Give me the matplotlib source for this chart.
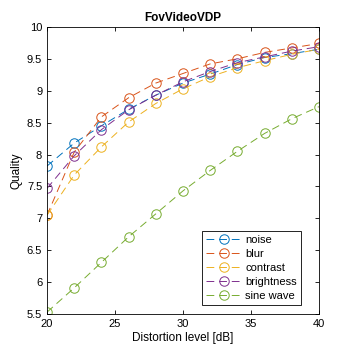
import matplotlib
matplotlib.use('Agg')
import matplotlib.pyplot as plt
from matplotlib.ticker import FormatStrFormatter, MultipleLocator

plt.rcParams['font.family'] = ['Liberation Sans', 'DejaVu Sans']

# 失真等级
levels = [20, 22, 24, 26, 28, 30, 32, 34, 36, 38, 40]

noise = [7.82, 8.18, 8.45, 8.71, 8.93, 9.12, 9.26, 9.41, 9.52, 9.58, 9.65]
blur = [7.05, 8.04, 8.59, 8.89, 9.12, 9.27, 9.42, 9.50, 9.60, 9.67, 9.74]
contrast = [7.05, 7.68, 8.12, 8.51, 8.80, 9.03, 9.22, 9.36, 9.47, 9.57, 9.65]
brightness = [7.47, 7.98, 8.39, 8.70, 8.93, 9.14, 9.30, 9.44, 9.53, 9.62, 9.69]
sine_wave = [5.53, 5.91, 6.31, 6.71, 7.07, 7.43, 7.75, 8.05, 8.33, 8.56, 8.75]

names = ['noise', 'blur', 'contrast', 'brightness', 'sine wave']
series = [noise, blur, contrast, brightness, sine_wave]
colors = ['#0072BD', '#D95319', '#EDB120', '#7E2F8E', '#77AC30']

fig = plt.figure(figsize=(3.54, 3.54), dpi=100)
ax = fig.add_axes([0.133, 0.113, 0.768, 0.811])

for name, vals, c in zip(names, series, colors):
    ax.plot(levels, vals, linestyle='--', dashes=(8, 5), marker='o', markersize=6.8,
            markerfacecolor='none', markeredgewidth=0.7, color=c, linewidth=0.7, label=name)

ax.set_xlim(20, 40)
ax.set_ylim(5.5, 10)
ax.xaxis.set_major_locator(MultipleLocator(5))
ax.yaxis.set_major_locator(MultipleLocator(0.5))
ax.yaxis.set_major_formatter(FormatStrFormatter('%g'))
ax.tick_params(direction='in', top=True, right=True, labelsize=8, length=3, width=0.6)
for s in ax.spines.values():
    s.set_linewidth(0.6)

ax.set_xlabel('Distortion level [dB]', fontsize=8.5, labelpad=2)
ax.set_ylabel('Quality', fontsize=8.5, labelpad=3)
ax.set_title('FovVideoVDP', fontsize=8.5, fontweight='bold', pad=4)

leg = ax.legend(loc='lower right', bbox_to_anchor=(0.934, 0.031), fontsize=8, numpoints=1,
                fancybox=False, edgecolor='black', framealpha=1, handlelength=3.3,
                handletextpad=0.25, borderpad=0.35, labelspacing=0.36, borderaxespad=0)
leg.get_frame().set_linewidth(0.6)

fig.savefig('out.png', dpi=100)
